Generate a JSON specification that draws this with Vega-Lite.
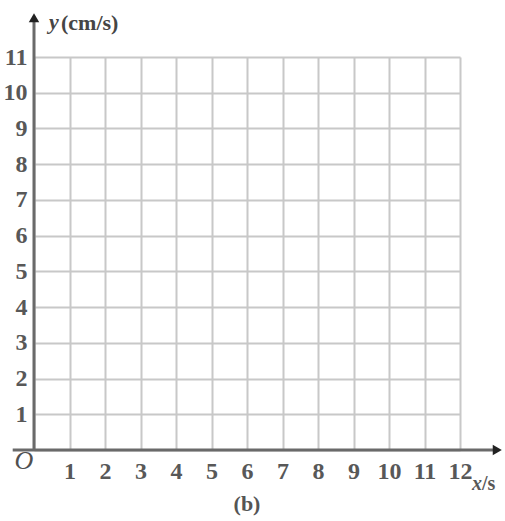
{
  "$schema": "https://vega.github.io/schema/vega-lite/v6.json",
  "width": 426,
  "height": 393,
  "autosize": {"type": "none"},
  "padding": {"left": 34, "top": 57, "right": 45, "bottom": 71},
  "background": "white",
  "config": {
    "view": {"stroke": null},
    "font": "Liberation Serif",
    "axis": {
      "grid": true,
      "gridColor": "#c8c8c8",
      "gridWidth": 2,
      "domain": false,
      "ticks": false,
      "labelFont": "Liberation Serif",
      "labelFontSize": 24,
      "labelFontWeight": "bold",
      "labelColor": "#585858",
      "labelFlush": false,
      "labelOverlap": false,
      "labelExpr": "datum.value == 0 ? '' : datum.label",
      "title": null
    },
    "axisX": {"tickCount": 12, "labelPadding": 9, "labelBaseline": "top"},
    "axisY": {"tickCount": 11, "labelPadding": 7}
  },
  "title": {"text": "(b)", "orient": "bottom", "anchor": "middle", "fontSize": 22, "fontWeight": "bold", "color": "#555555", "font": "Liberation Serif", "offset": 0},
  "data": {"values": [{"k": 0}]},
  "layer": [
    {
      "mark": {"type": "rule", "strokeWidth": 3, "color": "#6a6a6a"},
      "encoding": {
        "x": {
          "datum": -0.6,
          "type": "quantitative",
          "scale": {"domain": [0, 12], "nice": false, "zero": false}
        },
        "x2": {"datum": 13.0},
        "y": {
          "datum": 0,
          "type": "quantitative",
          "scale": {"domain": [0, 11], "nice": false, "zero": false}
        }
      }
    },
    {
      "mark": {"type": "rule", "strokeWidth": 3, "color": "#6a6a6a"},
      "encoding": {
        "x": {"datum": 0, "type": "quantitative"},
        "y": {"datum": 0, "type": "quantitative"},
        "y2": {"datum": 12.0}
      }
    },
    {
      "mark": {"type": "point", "shape": "triangle-right", "filled": true, "size": 110, "color": "#222222", "opacity": 1},
      "encoding": {
        "x": {"datum": 13.05, "type": "quantitative"},
        "y": {"datum": 0, "type": "quantitative"}
      }
    },
    {
      "mark": {"type": "point", "shape": "triangle-up", "filled": true, "size": 110, "color": "#222222", "opacity": 1},
      "encoding": {
        "x": {"datum": 0, "type": "quantitative"},
        "y": {"datum": 12.1, "type": "quantitative"}
      }
    },
    {
      "mark": {"type": "text", "text": "y", "fontStyle": "italic", "fontWeight": "bold", "fontSize": 22, "color": "#454545", "align": "left", "baseline": "middle", "dx": 15, "dy": 1, "font": "Liberation Serif"},
      "encoding": {
        "x": {"datum": 0, "type": "quantitative"},
        "y": {"datum": 12, "type": "quantitative"}
      }
    },
    {
      "mark": {"type": "text", "text": "(cm/s)", "fontWeight": "bold", "fontSize": 22, "color": "#454545", "align": "left", "baseline": "middle", "dx": 27, "dy": 2, "font": "Liberation Serif"},
      "encoding": {
        "x": {"datum": 0, "type": "quantitative"},
        "y": {"datum": 12, "type": "quantitative"}
      }
    },
    {
      "mark": {"type": "text", "text": "x", "fontStyle": "italic", "fontSize": 20, "fontWeight": "bold", "color": "#585858", "align": "left", "baseline": "alphabetic", "dx": 12, "dy": 40, "font": "Liberation Serif"},
      "encoding": {
        "x": {"datum": 12, "type": "quantitative"},
        "y": {"datum": 0, "type": "quantitative"}
      }
    },
    {
      "mark": {"type": "text", "text": "/s", "fontSize": 20, "fontWeight": "bold", "color": "#585858", "align": "left", "baseline": "alphabetic", "dx": 22, "dy": 40, "font": "Liberation Serif"},
      "encoding": {
        "x": {"datum": 12, "type": "quantitative"},
        "y": {"datum": 0, "type": "quantitative"}
      }
    },
    {
      "mark": {"type": "text", "text": "O", "fontStyle": "italic", "fontSize": 26, "color": "#505050", "align": "center", "baseline": "middle", "dx": -10, "dy": 11, "font": "Liberation Serif"},
      "encoding": {
        "x": {"datum": 0, "type": "quantitative"},
        "y": {"datum": 0, "type": "quantitative"}
      }
    }
  ]
}
